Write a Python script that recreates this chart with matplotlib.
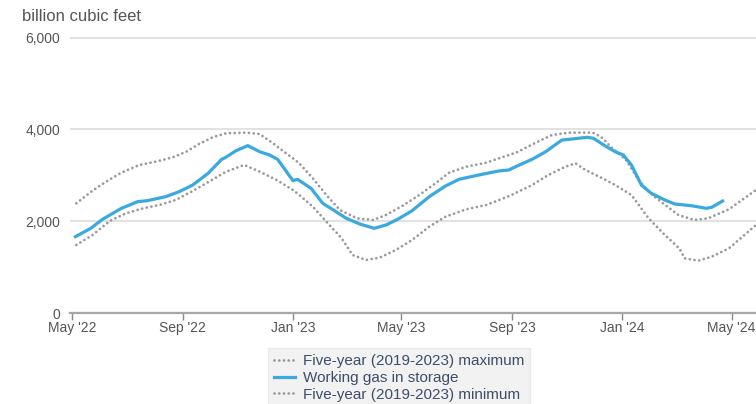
import matplotlib
matplotlib.use("Agg")
import matplotlib.pyplot as plt
import pandas as pd

plt.rcParams['font.family'] = ['Liberation Sans', 'DejaVu Sans']

# working gas in storage (billion cubic feet)
gas_dates = ['2022-05-05', '2022-05-22', '2022-06-04', '2022-06-25', '2022-07-13', '2022-07-24',
             '2022-08-13', '2022-08-28', '2022-09-12', '2022-09-29', '2022-10-14', '2022-10-18',
             '2022-10-30', '2022-11-12', '2022-11-25', '2022-12-06', '2022-12-15', '2023-01-01',
             '2023-01-06', '2023-01-21', '2023-02-03', '2023-02-16', '2023-03-01', '2023-03-16',
             '2023-04-01', '2023-04-14', '2023-04-27', '2023-05-13', '2023-06-01', '2023-06-19',
             '2023-07-04', '2023-07-26', '2023-08-17', '2023-08-28', '2023-09-06', '2023-09-23',
             '2023-10-08', '2023-10-26', '2023-11-03', '2023-11-23', '2023-11-30', '2023-12-13',
             '2023-12-24', '2024-01-02', '2024-01-11', '2024-01-22', '2024-02-02', '2024-02-17',
             '2024-02-28', '2024-03-17', '2024-04-03', '2024-04-09', '2024-04-21']
gas_values = [1663, 1845, 2041, 2281, 2426, 2448,
              2535, 2644, 2789, 3043, 3348, 3385,
              3537, 3646, 3515, 3443, 3348, 2884,
              2913, 2717, 2390, 2229, 2063, 1939,
              1845, 1917, 2041, 2229, 2534, 2767,
              2913, 3007, 3094, 3115, 3200, 3349,
              3514, 3769, 3784, 3828, 3806, 3638,
              3514, 3442, 3224, 2789, 2608, 2462,
              2375, 2338, 2281, 2303, 2440]

# five-year maximum
max_dates = ['2022-05-06', '2022-05-24', '2022-06-08', '2022-06-25', '2022-07-15', '2022-08-02',
             '2022-08-21', '2022-09-05', '2022-09-19', '2022-10-04', '2022-10-19', '2022-11-10',
             '2022-11-25', '2022-12-10', '2022-12-17', '2023-01-01', '2023-01-08', '2023-01-23',
             '2023-02-07', '2023-02-22', '2023-03-13', '2023-03-31', '2023-04-14', '2023-05-02',
             '2023-05-21', '2023-06-08', '2023-06-23', '2023-07-12', '2023-08-03', '2023-08-25',
             '2023-09-06', '2023-09-27', '2023-10-15', '2023-11-03', '2023-11-29', '2023-12-08',
             '2023-12-21', '2024-01-05', '2024-01-19', '2024-01-30', '2024-02-14', '2024-03-03',
             '2024-03-21', '2024-04-05', '2024-04-28', '2024-05-28']
max_values = [2390, 2666, 2862, 3058, 3225, 3298,
              3392, 3515, 3683, 3828, 3915, 3929,
              3900, 3697, 3588, 3370, 3261, 2935,
              2571, 2244, 2063, 2026, 2135, 2331,
              2571, 2826, 3057, 3187, 3275, 3420,
              3500, 3710, 3878, 3929, 3929, 3841,
              3588, 3333, 2898, 2643, 2403, 2135,
              2026, 2063, 2259, 2680]

# five-year minimum
min_dates = ['2022-05-06', '2022-05-24', '2022-06-12', '2022-06-30', '2022-07-19', '2022-08-06',
             '2022-08-24', '2022-09-12', '2022-09-30', '2022-10-19', '2022-11-08', '2022-11-25',
             '2022-12-14', '2023-01-01', '2023-01-08', '2023-01-23', '2023-02-07', '2023-02-24',
             '2023-03-08', '2023-03-23', '2023-04-07', '2023-04-25', '2023-05-13', '2023-06-01',
             '2023-06-19', '2023-07-12', '2023-08-03', '2023-08-25', '2023-09-04', '2023-09-23',
             '2023-10-11', '2023-10-30', '2023-11-10', '2023-11-21', '2023-12-10', '2023-12-24',
             '2024-01-11', '2024-01-30', '2024-02-17', '2024-03-04', '2024-03-10', '2024-03-25',
             '2024-04-09', '2024-04-28', '2024-05-28']
min_values = [1482, 1700, 2005, 2172, 2281, 2353,
              2462, 2658, 2862, 3080, 3225, 3080,
              2898, 2680, 2571, 2317, 1990, 1627,
              1264, 1155, 1206, 1373, 1591, 1881,
              2099, 2259, 2353, 2520, 2608, 2789,
              3007, 3189, 3261, 3116, 2934, 2789,
              2571, 2063, 1700, 1409, 1191, 1140,
              1227, 1409, 1917]

tick_dates = ['2022-05-01', '2022-09-01', '2023-01-01', '2023-05-01', '2023-09-01', '2024-01-01', '2024-05-01']
tick_labels = ["May '22", "Sep '22", "Jan '23", "May '23", "Sep '23", "Jan '24", "May '24"]
y_ticks = [0, 2000, 4000, 6000]
y_labels = ['0', '2,000', '4,000', '6,000']

fig = plt.figure(figsize=(7.56, 4.04), dpi=100)
ax = fig.add_axes([0.0926, 0.2252, 0.9074, 0.6886])

dot_style = (0, (0.01, 1.7))
ax.plot(pd.to_datetime(max_dates), max_values, color='#999999', lw=2.0, linestyle=dot_style,
        dash_capstyle='round', label='Five-year (2019-2023) maximum')
ax.plot(pd.to_datetime(gas_dates), gas_values, color='#3aa9e0', lw=2.3,
        label='Working gas in storage')
ax.plot(pd.to_datetime(min_dates), min_values, color='#999999', lw=2.0, linestyle=dot_style,
        dash_capstyle='round', label='Five-year (2019-2023) minimum')

ax.set_xlim(pd.Timestamp('2022-04-29'), pd.Timestamp('2024-05-28'))
ax.set_ylim(0, 6060)

ax.set_xticks(pd.to_datetime(tick_dates))
ax.set_xticklabels(tick_labels)
ax.set_yticks(y_ticks)
ax.set_yticklabels(y_labels)

for s in ['top', 'right', 'left']:
    ax.spines[s].set_visible(False)
ax.spines['bottom'].set_color('#a8a8a8')
ax.spines['bottom'].set_linewidth(1.6)

ax.tick_params(axis='x', direction='out', length=5, width=1, color='#888888',
               labelsize=10, labelcolor='#555555', pad=0.5)
ax.tick_params(axis='y', length=0, labelsize=10, labelcolor='#555555', pad=7)
ax.grid(axis='y', color='#e2e2e2', lw=1.5)
ax.grid(axis='x', visible=False)
ax.set_axisbelow(True)

fig.text(0.029, 0.958, 'billion cubic feet', fontsize=12, color='#555555', va='center', ha='left')

leg = fig.legend(loc='upper center', bbox_to_anchor=(0.528, 0.157), ncol=1, fontsize=11,
                 frameon=True, fancybox=False, facecolor='#efefef', edgecolor='#e6e6e6',
                 handlelength=1.4, handletextpad=0.5, labelspacing=0.18, borderpad=0.4)
for t in leg.get_texts():
    t.set_color('#3d4e69')

fig.savefig('out.png', dpi=100)
